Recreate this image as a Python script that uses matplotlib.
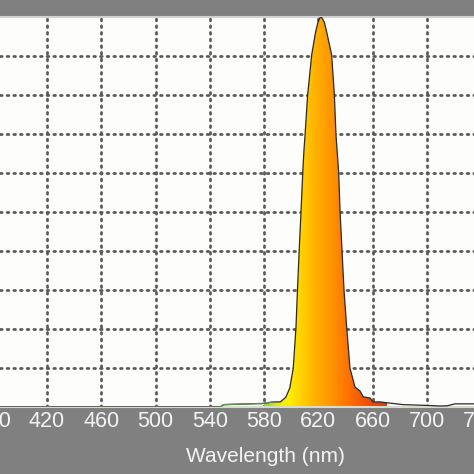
import numpy as np
import matplotlib
matplotlib.use("Agg")
import matplotlib.pyplot as plt
from matplotlib.colors import LinearSegmentedColormap

# spectrum (nm, relative intensity)
wavelength = [385, 440, 500, 548, 550, 579, 587, 592, 596, 599, 601.5, 603.5,
              604.6, 605.9, 607.2, 608.5, 609.4, 610.2, 612.1, 615.1, 618.0,
              619.7, 621.0, 621.9, 622.8, 624.4, 626.1, 629.8, 631.8, 633.0,
              635.0, 636.0, 637.4, 638.9, 640.9, 643.3, 647.0, 650.7, 653.1,
              658.1, 660.3, 665.4, 675.0, 682.4, 700.1, 709.6, 715, 720.7, 735]
intensity = [0.0, 0.0, 0.0, 0.0, 0.006, 0.009, 0.013, 0.013, 0.025, 0.049,
             0.10, 0.203, 0.30, 0.403, 0.50, 0.60, 0.659, 0.697, 0.80, 0.903,
             0.962, 0.986, 0.997, 1.0, 0.997, 0.986, 0.962, 0.903, 0.80, 0.697,
             0.60, 0.50, 0.403, 0.30, 0.203, 0.10, 0.051, 0.041, 0.026, 0.023,
             0.013, 0.013, 0.009, 0.006, 0.004, 0.0025, 0.003, 0.008, 0.008]

x_ticks = [380, 420, 460, 500, 540, 580, 620, 660, 700, 740]
x_label = "Wavelength (nm)"

grey = "#808080"
fig = plt.figure(figsize=(4.74, 4.74), dpi=100, facecolor=grey)
ax = fig.add_axes([0, 0.1414, 1, 0.8228])
ax.set_facecolor("#fdfdfb")

# dotted grid, under the peak
ax.set_xticks(x_ticks[1:-1])
ax.set_yticks(np.arange(0.1, 1.0, 0.1))
ax.tick_params(length=0, labelbottom=False, labelleft=False)
ax.grid(True, color="#5a5a5a", linewidth=2.0, linestyle=(0, (0.6, 1.8)),
        dash_capstyle="round", zorder=1)
ax.set_axisbelow(True)

for side in ("left", "right"):
    ax.spines[side].set_visible(False)
ax.spines["top"].set_color("#d2d2d2")
ax.spines["top"].set_linewidth(1.5)
ax.spines["bottom"].set_color("#d6dbcf")
ax.spines["bottom"].set_linewidth(1.5)

# colour gradient clipped to the spectrum shape
cmap = LinearSegmentedColormap.from_list("spec", [
    (0.0, "#9ac84a"), (0.12, "#e8f000"), (0.2, "#fff000"), (0.3, "#ffd200"),
    (0.4, "#ffb600"), (0.55, "#ff9400"), (0.7, "#ff6e00"), (0.85, "#f04c08"),
    (1.0, "#d83a10")])
band = ax.fill_between(wavelength, intensity, 0, facecolor="none",
                       edgecolor="none", zorder=2)
grad = np.linspace(0, 1, 512).reshape(1, -1)
im = ax.imshow(grad, cmap=cmap, aspect="auto", extent=[580, 670, 0, 1],
               zorder=2)
im.set_clip_path(band.get_paths()[0], transform=ax.transData)
ax.set_xlim(385.4, 734.7)
ax.set_ylim(0, 1.0)

ax.plot(wavelength, intensity, color="#2b2b22", linewidth=0.9, zorder=3)
ax.plot([548, 550, 579, 587], [0.0, 0.006, 0.009, 0.013], color="#5e9050",
        linewidth=1.0, zorder=3)

for t in x_ticks:
    ax.text(t, -0.0385, str(t), transform=ax.get_xaxis_transform(),
            ha="center", va="center", color="#f4f4f4", fontsize=15.5,
            family="Liberation Sans", clip_on=False)
fig.text(265 / 474, 1 - 457 / 474, x_label, ha="center", va="center",
         color="#f4f4f4", fontsize=15, family="Liberation Sans")

fig.savefig("out.png", dpi=100, facecolor=grey)
